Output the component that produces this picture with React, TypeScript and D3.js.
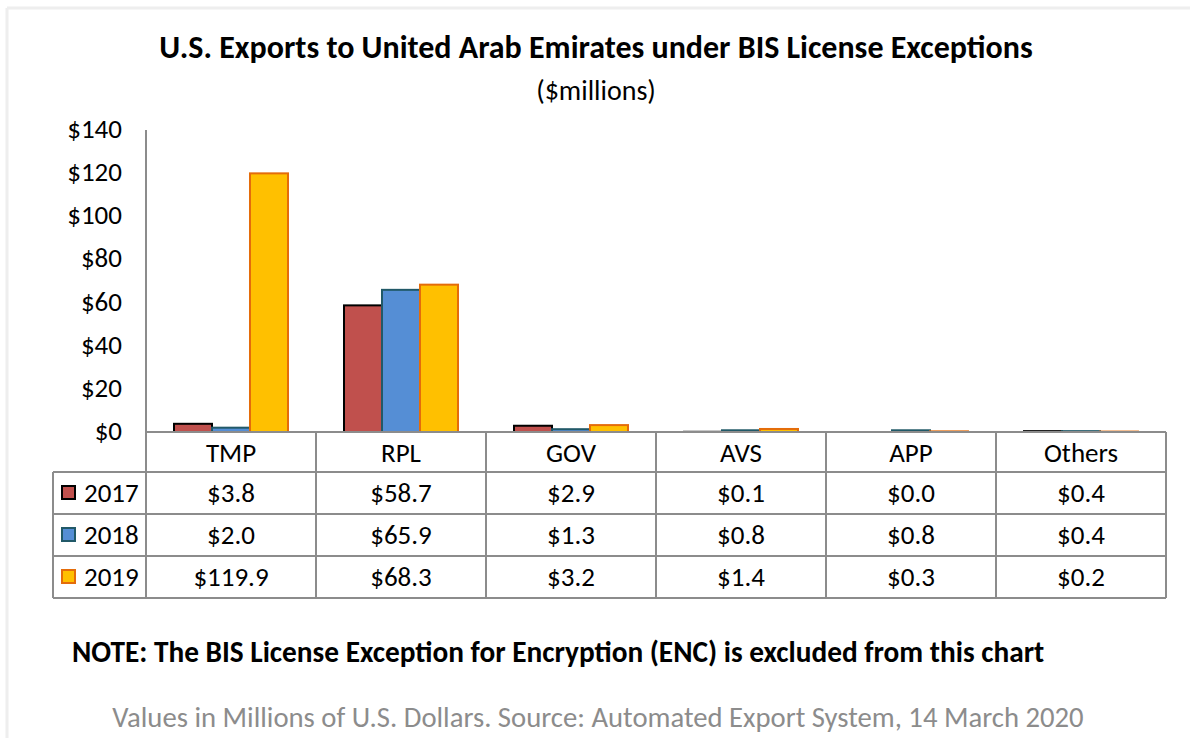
import React from "react";
import * as d3 from "d3";

const categories = ["TMP", "RPL", "GOV", "AVS", "APP", "Others"];
const seriesNames = ["2017", "2018", "2019"];
const values2017 = [3.8, 58.7, 2.9, 0.1, 0.0, 0.4];
const values2018 = [2.0, 65.9, 1.3, 0.8, 0.8, 0.4];
const values2019 = [119.9, 68.3, 3.2, 1.4, 0.3, 0.2];
const yTicks = [0, 20, 40, 60, 80, 100, 120, 140];

const fills = ["#C0504D", "#558ED5", "#FFC000"];
const strokes = ["#000000", "#215968", "#E46C0A"];

const W = 1190;
const H = 738;
const FONT = "Carlito, Calibri, Lato, 'Open Sans', sans-serif";

export default function App() {
  const seriesValues = [values2017, values2018, values2019];
  const plotLeft = 146;
  const plotRight = 1166;
  const y = d3.scaleLinear().domain([0, 140]).range([432, 130]);
  const x = d3.scaleBand<string>().domain(categories).range([plotLeft, plotRight]).padding(0);
  const xs = d3
    .scaleBand<string>()
    .domain(seriesNames)
    .range([0, x.bandwidth()])
    .paddingInner(0)
    .paddingOuter(0.737);
  const rowTop = 472;
  const rowH = 42;
  const tableBottom = rowTop + rowH * 3;
  const legendLeft = 53;
  const grid = "#8C8C8C";
  const fs = 27;

  return (
    <svg
      width={W}
      height={H}
      style={{ position: "absolute", left: 0, top: 0, background: "#fff" }}
      fontFamily={FONT}
    >
      <rect x={0} y={0} width={W} height={H} fill="#fff" />
      <line x1={7} y1={8} x2={W} y2={8} stroke="#EEEEEE" strokeWidth={3} />
      <line x1={7} y1={8} x2={7} y2={H} stroke="#EEEEEE" strokeWidth={3} />

      <text x={596} y={58} textAnchor="middle" fontSize={32} fontWeight="bold" fill="#000">
        U.S. Exports to United Arab Emirates under BIS License Exceptions
      </text>
      <text x={596} y={100} textAnchor="middle" fontSize={28} fill="#000">
        ($millions)
      </text>

      {yTicks.map((t) => (
        <text key={t} x={122} y={y(t) + 8} textAnchor="end" fontSize={fs} fill="#000">
          {"$" + t}
        </text>
      ))}

      {categories.map((c, ci) =>
        seriesNames.map((s, si) => {
          const v = seriesValues[si][ci];
          const x0 = (x(c) as number) + (xs(s) as number);
          const top = y(v);
          return (
            <rect
              key={c + s}
              x={x0}
              y={top}
              width={xs.bandwidth()}
              height={Math.max(0, y(0) - top)}
              fill={fills[si]}
              stroke={strokes[si]}
              strokeWidth={2}
            />
          );
        })
      )}

      <line x1={146} y1={130} x2={146} y2={432} stroke={grid} strokeWidth={2} />

      {/* table grid */}
      <line x1={plotLeft} y1={432} x2={plotRight} y2={432} stroke={grid} strokeWidth={2} />
      {[rowTop, rowTop + rowH, rowTop + 2 * rowH, tableBottom].map((ry, i) => (
        <line key={"h" + i} x1={legendLeft} y1={ry} x2={plotRight} y2={ry} stroke={grid} strokeWidth={2} />
      ))}
      <line x1={legendLeft} y1={rowTop} x2={legendLeft} y2={tableBottom} stroke={grid} strokeWidth={2} />
      {categories.map((c) => (
        <line
          key={"v" + c}
          x1={x(c) as number}
          y1={432}
          x2={x(c) as number}
          y2={tableBottom}
          stroke={grid}
          strokeWidth={2}
        />
      ))}
      <line x1={plotRight} y1={432} x2={plotRight} y2={tableBottom} stroke={grid} strokeWidth={2} />

      {categories.map((c) => (
        <text
          key={"c" + c}
          x={(x(c) as number) + x.bandwidth() / 2}
          y={462}
          textAnchor="middle"
          fontSize={fs}
          fill="#000"
        >
          {c}
        </text>
      ))}

      {seriesNames.map((s, si) => (
        <g key={"row" + s}>
          <rect
            x={62}
            y={rowTop + si * rowH + 14}
            width={13}
            height={13}
            fill={fills[si]}
            stroke={strokes[si]}
            strokeWidth={2}
          />
          <text x={84} y={rowTop + si * rowH + 30} fontSize={fs} fill="#000">
            {s}
          </text>
          {categories.map((c, ci) => (
            <text
              key={c}
              x={(x(c) as number) + x.bandwidth() / 2}
              y={rowTop + si * rowH + 30}
              textAnchor="middle"
              fontSize={fs}
              fill="#000"
            >
              {"$" + seriesValues[si][ci].toFixed(1)}
            </text>
          ))}
        </g>
      ))}

      <text x={72} y={662} fontSize={29.3} fontWeight="bold" fill="#000">
        NOTE: The BIS License Exception for Encryption (ENC) is excluded from this chart
      </text>
      <text x={598} y={727} textAnchor="middle" fontSize={28.7} fill="#8C8C8C">
        Values in Millions of U.S. Dollars. Source: Automated Export System, 14 March 2020
      </text>
    </svg>
  );
}
